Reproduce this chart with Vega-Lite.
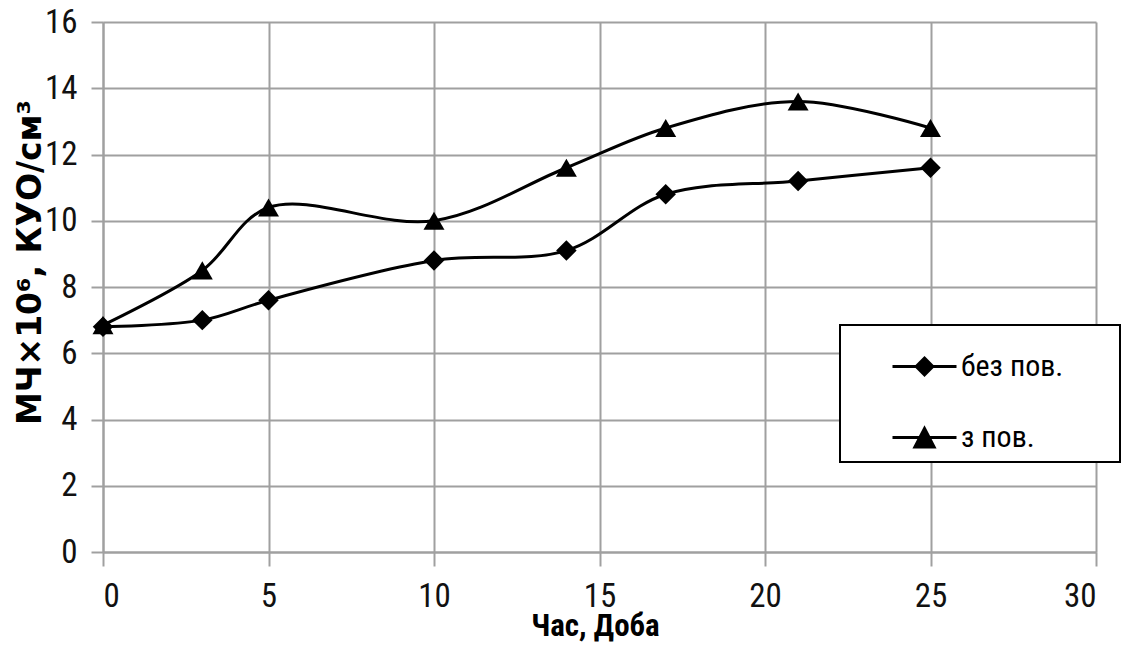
{
  "$schema": "https://vega.github.io/schema/vega-lite/v6.json",
  "width": 993,
  "height": 530,
  "autosize": {"type": "none"},
  "padding": {"left": 103, "top": 22, "right": 28, "bottom": 93},
  "background": "white",
  "config": {
    "view": {"stroke": null},
    "axis": {
      "gridColor": "#a0a0a0",
      "gridWidth": 2,
      "domainColor": "#a0a0a0",
      "domainWidth": 2,
      "tickColor": "#a0a0a0",
      "tickWidth": 2,
      "labelFont": "Liberation Sans Narrow, Roboto Condensed, Open Sans, sans-serif",
      "labelFontSize": 33,
      "labelColor": "#111111"
    }
  },
  "data": {
    "values": [
      {"x": 0, "y": 6.8, "s": "без пов."},
      {"x": 3, "y": 7.0, "s": "без пов."},
      {"x": 5, "y": 7.6, "s": "без пов."},
      {"x": 10, "y": 8.8, "s": "без пов."},
      {"x": 14, "y": 9.1, "s": "без пов."},
      {"x": 17, "y": 10.8, "s": "без пов."},
      {"x": 21, "y": 11.2, "s": "без пов."},
      {"x": 25, "y": 11.6, "s": "без пов."},
      {"x": 0, "y": 6.85, "s": "з пов."},
      {"x": 3, "y": 8.5, "s": "з пов."},
      {"x": 5, "y": 10.4, "s": "з пов."},
      {"x": 10, "y": 10.0, "s": "з пов."},
      {"x": 14, "y": 11.6, "s": "з пов."},
      {"x": 17, "y": 12.8, "s": "з пов."},
      {"x": 21, "y": 13.6, "s": "з пов."},
      {"x": 25, "y": 12.8, "s": "з пов."}
    ]
  },
  "encoding": {
    "x": {
      "field": "x",
      "type": "quantitative",
      "scale": {"domain": [0, 30], "nice": false},
      "axis": {
        "values": [0, 5, 10, 15, 20, 25, 30],
        "tickSize": 14,
        "labelPadding": 14,
        "title": "Час, Доба",
        "titleFont": "Liberation Sans Narrow, Roboto Condensed, sans-serif",
        "titleFontWeight": "bold",
        "titleFontSize": 31,
        "titleColor": "black",
        "titleBaseline": "alphabetic",
        "titleY": 83,
        "titleX": 492
      }
    },
    "y": {
      "field": "y",
      "type": "quantitative",
      "scale": {"domain": [0, 16], "nice": false},
      "axis": {
        "values": [0, 2, 4, 6, 8, 10, 12, 14, 16],
        "tickSize": 12,
        "labelPadding": 14,
        "title": "МЧ×10⁶, КУО/см³",
        "titleFont": "DejaVu Sans, Liberation Sans, sans-serif",
        "titleFontWeight": "bold",
        "titleFontSize": 33,
        "titleColor": "black",
        "titleAngle": -90,
        "titleBaseline": "middle",
        "titleAlign": "center",
        "titleX": -73,
        "titleY": 240
      }
    }
  },
  "layer": [
    {
      "mark": {"type": "line", "interpolate": "catmull-rom", "strokeWidth": 3},
      "encoding": {
        "color": {
          "field": "s",
          "type": "nominal",
          "scale": {"domain": ["без пов.", "з пов."], "range": ["black", "black"]},
          "legend": {
            "title": null,
            "orient": "none",
            "legendX": 737,
            "legendY": 303,
            "padding": 8,
            "strokeColor": "black",
            "fillColor": "white",
            "symbolSize": 4096,
            "symbolOffset": 43,
            "symbolStrokeWidth": 3,
            "symbolStrokeColor": "black",
            "symbolFillColor": "black",
            "labelOffset": 3,
            "rowPadding": 22,
            "labelFont": "Liberation Sans Narrow, Roboto Condensed, Open Sans, sans-serif",
            "labelFontSize": 30,
            "labelColor": "black",
            "labelLimit": 400,
            "labelExpr": "datum.label + '\u2003\u2002\u2009\u200a\u200b'",
            "encode": {
              "legend": {
                "update": {
                  "strokeWidth": {"value": 2}
                }
              },
              "symbols": {
                "update": {
                  "shape": {"signal": "datum.value == 'без пов.' ? 'M-1,0H1M0,-0.26L0.26,0L0,0.26L-0.26,0Z' : 'M-1,0H1M0,-0.28L0.3,0.3L-0.3,0.3Z'"},
                  "fill": {"value": "black"},
                  "stroke": {"value": "black"},
                  "strokeWidth": {"value": 3}
                }
              }
            }
          }
        }
      }
    },
    {
      "transform": [{"filter": "datum.s == 'без пов.'"}],
      "mark": {"type": "point", "filled": true, "opacity": 1, "size": 420, "color": "black", "shape": "diamond"}
    },
    {
      "transform": [{"filter": "datum.s == 'з пов.'"}],
      "mark": {"type": "point", "filled": true, "opacity": 1, "size": 440, "color": "black", "shape": "triangle-up"}
    }
  ]
}
